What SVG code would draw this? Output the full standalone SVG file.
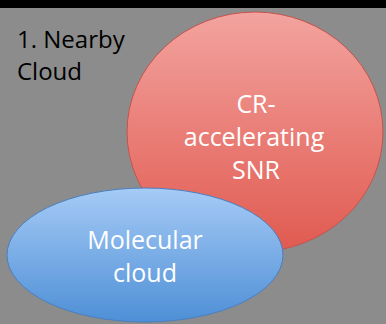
<svg xmlns="http://www.w3.org/2000/svg" width="386" height="324" viewBox="0 0 386 324">
  <defs>
    <linearGradient id="redFill" x1="0" y1="0" x2="0" y2="1">
      <stop offset="0" stop-color="#f3a39f"/>
      <stop offset="1" stop-color="#e05a50"/>
    </linearGradient>
    <linearGradient id="blueFill" x1="0" y1="0" x2="0" y2="1">
      <stop offset="0" stop-color="#a6cbf6"/>
      <stop offset="1" stop-color="#4e8fd6"/>
    </linearGradient>
    <style>
      .label { font-family: "Open Sans", "Liberation Sans", sans-serif; }
      .inner { fill: #ffffff; text-anchor: middle; font-size: 25px; }
      .title { fill: #000000; font-size: 24px; }
    </style>
  </defs>

  <!-- background -->
  <rect x="0" y="0" width="386" height="324" fill="#8c8c8c"/>
  <rect x="0" y="0" width="386" height="8" fill="#000000"/>

  <!-- heading -->
  <g id="heading">
    <text class="label title" x="17" y="48">1. Nearby</text>
    <text class="label title" x="17" y="80">Cloud</text>
  </g>

  <!-- supernova remnant -->
  <g id="snr">
    <ellipse cx="255" cy="132" rx="128" ry="120" fill="url(#redFill)" stroke="#c4544c" stroke-width="1"/>
    <text class="label inner" x="256" y="113">CR-</text>
    <text class="label inner" x="254" y="146">accelerating</text>
    <text class="label inner" x="256" y="179">SNR</text>
  </g>

  <!-- molecular cloud -->
  <g id="molecular-cloud">
    <ellipse cx="145" cy="255" rx="138" ry="67" fill="url(#blueFill)" stroke="#4a7fbf" stroke-width="1"/>
    <text class="label inner" x="145" y="249">Molecular</text>
    <text class="label inner" x="145" y="282">cloud</text>
  </g>

  <!-- connectors (none) -->
  <g id="connectors"/>
</svg>
